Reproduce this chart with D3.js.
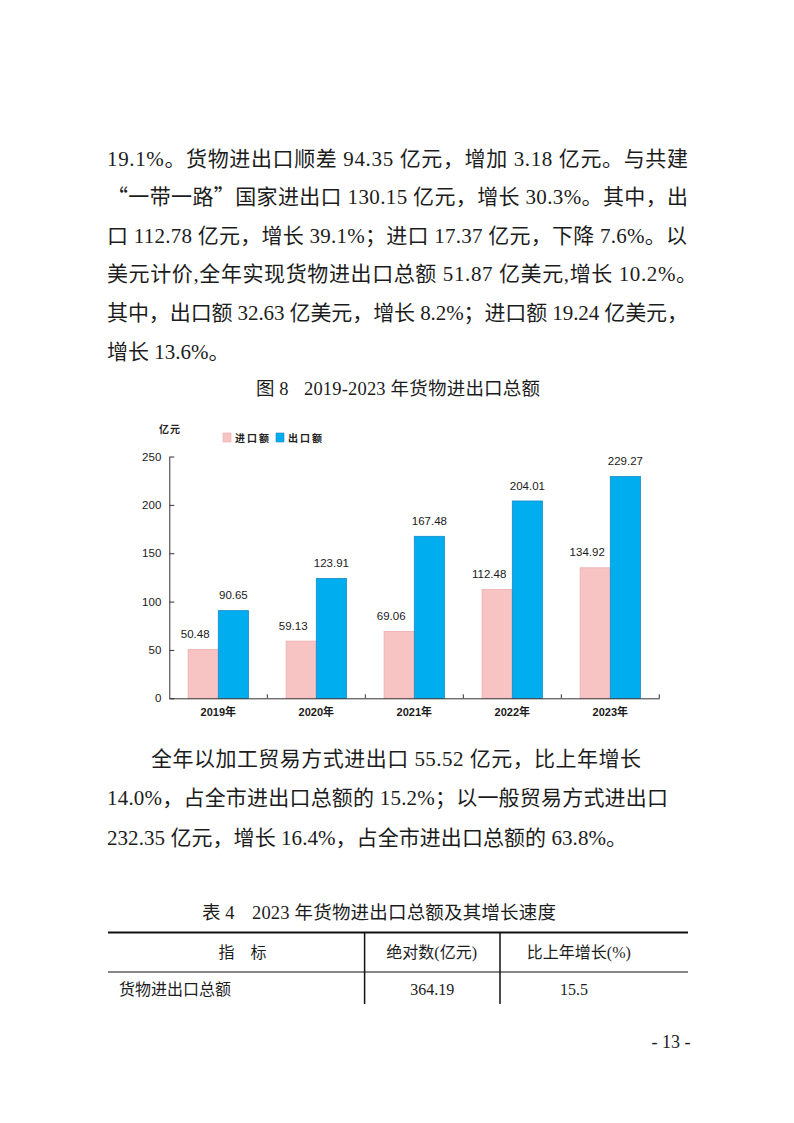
<!DOCTYPE html>
<html><head><meta charset="utf-8">
<script src="https://cdn.jsdelivr.net/npm/d3@7"></script>
<style>body{margin:0;background:#fff}svg{display:block}</style>
</head><body><svg id="page" width="794" height="1123"></svg>
<script>
// ---- chart data ----
const years = ["2019年","2020年","2021年","2022年","2023年"];
const seriesNames = ["进口额","出口额"];
const importVals = [50.48, 59.13, 69.06, 112.48, 134.92];
const exportVals = [90.65, 123.91, 167.48, 204.01, 229.27];
const yTicks = [0, 50, 100, 150, 200, 250];
const unitLabel = "亿元";
const chartTitle = ["图 8", "2019-2023 年货物进出口总额"];

// ---- page text ----
const para1 = [
  "19.1%。货物进出口顺差 94.35 亿元，增加 3.18 亿元。与共建",
  "“一带一路”国家进出口 130.15 亿元，增长 30.3%。其中，出",
  "口 112.78 亿元，增长 39.1%；进口 17.37 亿元，下降 7.6%。以",
  "美元计价,全年实现货物进出口总额 51.87 亿美元,增长 10.2%。",
  "其中，出口额 32.63 亿美元，增长 8.2%；进口额 19.24 亿美元，",
  "增长 13.6%。"
];
const para2 = [
  "全年以加工贸易方式进出口 55.52 亿元，比上年增长",
  "14.0%，占全市进出口总额的 15.2%；以一般贸易方式进出口",
  "232.35 亿元，增长 16.4%，占全市进出口总额的 63.8%。"
];
const tableTitle = ["表 4", "2023 年货物进出口总额及其增长速度"];
const tableHeader = ["指　标", "绝对数(亿元)", "比上年增长(%)"];
const tableRow = ["货物进出口总额", "364.19", "15.5"];
const pageNum = "- 13 -";

const svg = d3.select("#page");
const SERIF = "'Liberation Serif','DejaVu Serif',serif";
const CJK = "'Noto Sans CJK SC','Noto Sans',sans-serif";
const SANS = "'Liberation Sans','Noto Sans CJK SC',Arial,sans-serif";

// write mixed text: ASCII runs in serif, others in CJK font
function mixedText(g, txt, x, y, size, width, anchor) {
  const t = g.append("text").attr("x", x).attr("y", y)
    .attr("font-size", size).attr("fill", "#1c1c1c")
    .attr("font-family", CJK);
  if (anchor) t.attr("text-anchor", anchor);
  const runs = txt.match(/[\u0000-\u007F]+|[^\u0000-\u007F]+/g) || [];
  runs.forEach(r => {
    t.append("tspan").attr("font-family", /[\u0000-\u007F]/.test(r[0]) ? SERIF : CJK).text(r);
  });
  if (width) t.attr("textLength", width).attr("lengthAdjust", "spacing");
  return t;
}

// paragraph 1
const p1Widths = [581, 581, 580, 590, 581, null];
para1.forEach((s, i) => mixedText(svg, s, 107, 165.5 + 38.6 * i, 21, p1Widths[i]));

// chart title
mixedText(svg, chartTitle[0], 256, 394.5, 18.5, null);
mixedText(svg, chartTitle[1], 304, 394.5, 18.5, 236);

// ---- chart ----
const x0 = d3.scaleBand().domain(years).range([169.3, 659.3]).padding(0);
const bw = x0.bandwidth();
const x1 = d3.scaleBand().domain(seriesNames).range([bw * 0.192, bw * 0.808]).padding(0);
const y = d3.scaleLinear().domain([0, 250]).range([698.3, 456.5]);
const colors = { "进口额": "#F8C3C3", "出口额": "#00ADEF" };
const strokes = { "进口额": "#EBB0B0", "出口额": "#1A8BC4" };

const rows = years.map((yr, i) => ({ year: yr, vals: [
  { s: seriesNames[0], v: importVals[i] },
  { s: seriesNames[1], v: exportVals[i] } ] }));

const chart = svg.append("g");
const grp = chart.selectAll("g.grp").data(rows).join("g")
  .attr("transform", d => `translate(${x0(d.year)},0)`);
grp.selectAll("rect").data(d => d.vals).join("rect")
  .attr("x", d => x1(d.s)).attr("width", x1.bandwidth())
  .attr("y", d => y(d.v)).attr("height", d => y(0) - y(d.v))
  .attr("fill", d => colors[d.s]).attr("stroke", d => strokes[d.s]).attr("stroke-width", 0.8);
grp.selectAll("text.val").data(d => d.vals).join("text").attr("class", "val")
  .attr("x", d => x1(d.s) + x1.bandwidth() / 2 + (d.s === seriesNames[0] ? -8 : 0))
  .attr("y", d => y(d.v) - 11.4)
  .attr("text-anchor", "middle").attr("font-family", SANS).attr("font-size", 11.5)
  .attr("fill", "#1a1a1a").text(d => d.v.toFixed(2));

// y axis
const yAxis = chart.append("g").attr("transform", "translate(169.3,0)")
  .call(d3.axisLeft(y).tickValues(yTicks).tickSizeInner(-5).tickSizeOuter(0).tickPadding(8));
yAxis.selectAll("text").attr("font-family", SANS).attr("font-size", 11.5).attr("fill", "#1a1a1a");
yAxis.selectAll("line,path").attr("stroke", "#333");

// x axis
const xAxis = chart.append("g").attr("transform", `translate(0,${y(0)})`)
  .call(d3.axisBottom(x0).tickSize(0).tickSizeOuter(0).tickPadding(10));
xAxis.selectAll("text").attr("font-family", SANS).attr("font-size", 11).attr("font-weight", "bold").attr("fill", "#1a1a1a");
xAxis.select("path").attr("stroke", "#333");
chart.selectAll("line.bt").data(years).join("line").attr("class", "bt")
  .attr("x1", d => x0(d) + bw).attr("x2", d => x0(d) + bw)
  .attr("y1", y(0)).attr("y2", y(0) - 4).attr("stroke", "#333");

// unit + legend
chart.append("text").attr("x", 170).attr("y", 433).attr("text-anchor", "middle")
  .attr("font-family", CJK).attr("font-size", 10).attr("font-weight", "bold")
  .attr("fill", "#222").attr("letter-spacing", 1).text(unitLabel);
const legX = [223, 276];
const leg = chart.selectAll("g.leg").data(seriesNames).join("g")
  .attr("transform", (d, i) => `translate(${legX[i]},433)`);
leg.append("rect").attr("width", 8).attr("height", 9)
  .attr("fill", d => colors[d]).attr("stroke", d => strokes[d]).attr("stroke-width", 0.6);
leg.append("text").attr("x", 12).attr("y", 8.5).attr("font-family", CJK)
  .attr("font-size", 10).attr("font-weight", "bold").attr("letter-spacing", 2)
  .attr("fill", "#222").text(d => d);

// paragraph 2
const p2X = [151, 107, 107];
const p2W = [490, 561, 520];
const p2Y = [766.3, 805.3, 844.5];
para2.forEach((s, i) => mixedText(svg, s, p2X[i], p2Y[i], 21, p2W[i]));

// table
mixedText(svg, tableTitle[0], 202, 918.5, 18.5, null);
mixedText(svg, tableTitle[1], 252, 918.5, 18.5, 304);
const tg = svg.append("g");
tg.append("line").attr("x1", 108).attr("x2", 688).attr("y1", 932.5).attr("y2", 932.5).attr("stroke", "#111").attr("stroke-width", 2);
tg.append("line").attr("x1", 108).attr("x2", 688).attr("y1", 972).attr("y2", 972).attr("stroke", "#111").attr("stroke-width", 1);
[364.6, 500].forEach(xv => tg.append("line").attr("x1", xv).attr("x2", xv)
  .attr("y1", 932).attr("y2", 1004).attr("stroke", "#111").attr("stroke-width", 1.5));
const hdrX = [242.5, 431.7, 578.8];
tableHeader.forEach((s, i) => mixedText(tg, s, hdrX[i], 958, 16, null, "middle"));
mixedText(tg, tableRow[0], 119, 995, 16, 112);
mixedText(tg, tableRow[1], 432.3, 995, 16, null, "middle");
mixedText(tg, tableRow[2], 574, 995, 16, null, "middle");

// page number
mixedText(svg, pageNum, 671, 1048, 18, null, "middle");
</script></body></html>
